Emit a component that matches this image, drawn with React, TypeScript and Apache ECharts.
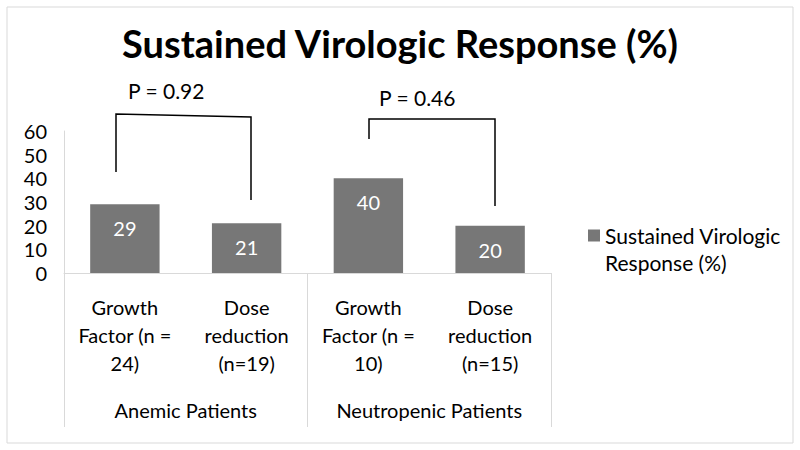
import React, { useEffect, useRef } from "react";
import * as echarts from "echarts";

const categories = ["Growth\nFactor (n =\n24)", "Dose\nreduction\n(n=19)", "Growth\nFactor (n =\n10)", "Dose\nreduction\n(n=15)"];
const groups = ["Anemic Patients", "Neutropenic Patients"];
const svrValues = [29, 21, 40, 20];
const seriesName = "Sustained Virologic Response (%)";
const pLabels = ["P = 0.92", "P = 0.46"];

const FONT = "Lato, 'Open Sans', sans-serif";

export default function App() {
  const ref = useRef<HTMLDivElement>(null);
  useEffect(() => {
    if (!ref.current) return;
    const chart = echarts.init(ref.current, undefined, { renderer: "svg" });
    const lineStyle = { stroke: "#000", lineWidth: 1.5 };
    chart.setOption({
      animation: false,
      backgroundColor: "#fff",
      textStyle: { fontFamily: FONT },
      title: {
        text: "Sustained Virologic Response (%)",
        left: "center",
        top: 19,
        textStyle: { fontFamily: FONT, fontSize: 38, fontWeight: "bold", color: "#000" },
      },
      grid: { left: 64, right: 249, top: 131, bottom: 177 },
      legend: {
        left: 583,
        top: 190,
        orient: "vertical",
        itemWidth: 12,
        itemHeight: 12,
        icon: "rect",
        data: [seriesName],
        formatter: () => " \nSustained Virologic\nResponse (%)",
        textStyle: { fontFamily: FONT, fontSize: 21, color: "#000", lineHeight: 27 },
      },
      xAxis: [
        {
          type: "category",
          data: categories,
          axisLine: { show: true, lineStyle: { color: "#d9d9d9", width: 1 } },
          axisTick: { show: false },
          axisLabel: { fontFamily: FONT, fontSize: 20, color: "#000", lineHeight: 28, margin: 20, interval: 0 },
        },
        {
          type: "category",
          data: groups,
          position: "bottom",
          axisLine: { show: false },
          axisTick: { show: true, length: 154, lineStyle: { color: "#d9d9d9", width: 1 } },
          axisLabel: { fontFamily: FONT, fontSize: 20, color: "#000", margin: 127, interval: 0 },
        },
      ],
      yAxis: {
        type: "value",
        min: 0,
        max: 60,
        interval: 10,
        axisLine: { show: true, lineStyle: { color: "#d9d9d9", width: 1 } },
        axisTick: { show: false },
        splitLine: { show: false },
        axisLabel: { fontFamily: FONT, fontSize: 20, color: "#000", margin: 17, padding: [5, 0, 0, 0] },
      },
      series: [
        {
          name: seriesName,
          type: "bar",
          xAxisIndex: 0,
          data: svrValues,
          barWidth: "57%",
          itemStyle: { color: "#777777" },
          label: {
            show: true,
            position: "insideTop",
            distance: 14,
            color: "#fff",
            fontFamily: FONT,
            fontSize: 20,
          },
        },
      ],
      graphic: [
        { type: "rect", shape: { x: 7, y: 7, width: 786, height: 436 }, style: { fill: "none", stroke: "#d9d9d9", lineWidth: 1 }, silent: true },
        { type: "polyline", shape: { points: [[116, 172], [116, 114], [251, 117], [251, 200]] }, style: { ...lineStyle, fill: "none" } },
        { type: "polyline", shape: { points: [[369, 139], [369, 119], [495, 119], [495, 206]] }, style: { ...lineStyle, fill: "none" } },
        { type: "text", left: 128, top: 80, style: { text: pLabels[0], fontFamily: FONT, fontSize: 21, fill: "#000" } },
        { type: "text", left: 379, top: 87, style: { text: pLabels[1], fontFamily: FONT, fontSize: 21, fill: "#000" } },
      ],
    });
    return () => chart.dispose();
  }, []);
  return <div ref={ref} style={{ position: "fixed", left: 0, top: 0, width: 800, height: 450 }} />;
}
